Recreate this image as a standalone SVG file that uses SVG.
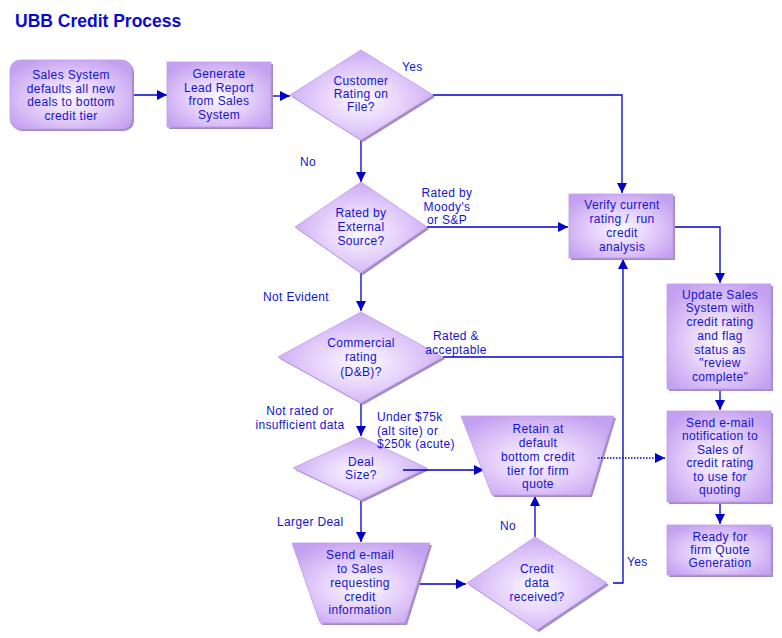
<svg xmlns="http://www.w3.org/2000/svg" width="782" height="638" viewBox="0 0 782 638">
<defs>
<radialGradient id="g" cx="50%" cy="55%" r="62%">
<stop offset="0" stop-color="#fdfaff"/>
<stop offset="0.45" stop-color="#e6d2fb"/>
<stop offset="1" stop-color="#c4a0f0"/>
</radialGradient>
<marker id="ah" markerUnits="userSpaceOnUse" markerWidth="10" markerHeight="10" refX="10" refY="5" orient="auto" viewBox="0 0 10 10">
<path d="M0,0 L10,5 L0,10 z" fill="#0000c8"/>
</marker>
<style>
.s{fill:url(#g);stroke:#c09cec;stroke-width:0.8}
.sh{fill:#a28cc2}
.t{font-family:"Liberation Sans",Arial,sans-serif;font-size:12px;letter-spacing:0.35px;fill:#1414d0;text-anchor:middle}
.l{font-family:"Liberation Sans",Arial,sans-serif;font-size:12px;letter-spacing:0.35px;fill:#1414d0}
.c{fill:none;stroke:#0000c8;stroke-width:1.3}
.d{fill:none;stroke:#0000c8;stroke-width:1.3;stroke-dasharray:1.5 1.5}
</style>
</defs>
<rect width="782" height="638" fill="#ffffff"/>
<text x="15" y="27" font-family="'Liberation Sans',Arial,sans-serif" font-size="17.5" font-weight="bold" fill="#0a0ad0">UBB Credit Process</text>

<g id="connectors">
<path class="c" d="M133,95 H167" marker-end="url(#ah)"/>
<path class="c" d="M272,96 H290" marker-end="url(#ah)"/>
<path class="c" d="M433,95 H622 V193" marker-end="url(#ah)"/>
<path class="c" d="M361,140 V182" marker-end="url(#ah)"/>
<path class="c" d="M427,227 H568" marker-end="url(#ah)"/>
<path class="c" d="M361,273 V311" marker-end="url(#ah)"/>
<path class="c" d="M443,357 H623"/>
<path class="c" d="M613,583 H623 V259" marker-end="url(#ah)"/>
<path class="c" d="M673,227 H720 V283" marker-end="url(#ah)"/>
<path class="c" d="M720,389 V410" marker-end="url(#ah)"/>
<path class="c" d="M720,502 V524" marker-end="url(#ah)"/>
<path class="c" d="M361,403 V436" marker-end="url(#ah)"/>
<path class="c" d="M361,500 V542" marker-end="url(#ah)"/>
<path class="c" d="M418,584 H466" marker-end="url(#ah)"/>
<path class="c" d="M535,537 V496" marker-end="url(#ah)"/>
</g>

<g id="n1">
<rect class="sh" x="12" y="62" width="122" height="69" rx="10"/>
<rect class="s" x="10" y="60" width="122" height="69" rx="10"/>
<text class="t" x="71" y="79">Sales System</text>
<text class="t" x="71" y="93">defaults all new</text>
<text class="t" x="71" y="106">deals to bottom</text>
<text class="t" x="71" y="120">credit tier</text>
</g>

<g id="n2">
<rect class="sh" x="169" y="64" width="104" height="65"/>
<rect class="s" x="167" y="62" width="104" height="65"/>
<text class="t" x="219" y="78">Generate</text>
<text class="t" x="219" y="92">Lead Report</text>
<text class="t" x="219" y="105">from Sales</text>
<text class="t" x="219" y="119">System</text>
</g>

<g id="d1">
<polygon class="sh" points="363,52 435,97 363,142 292,97"/>
<polygon class="s" points="361,50 433,95 361,140 290,95"/>
<text class="t" x="361" y="85">Customer</text>
<text class="t" x="361" y="98">Rating on</text>
<text class="t" x="361" y="111">File?</text>
</g>
<text class="l" x="402" y="71">Yes</text>
<text class="l" x="300" y="166">No</text>

<g id="d2">
<polygon class="sh" points="363,184 429,229 363,275 297,229"/>
<polygon class="s" points="361,182 427,227 361,273 295,227"/>
<text class="t" x="361" y="217">Rated by</text>
<text class="t" x="361" y="231">External</text>
<text class="t" x="361" y="245">Source?</text>
</g>
<text class="t" x="447" y="197">Rated by</text>
<text class="t" x="447" y="211">Moody's</text>
<text class="t" x="447" y="224">or S&amp;P</text>
<text class="l" x="263" y="301">Not Evident</text>

<g id="n3">
<rect class="sh" x="571" y="196" width="104" height="64"/>
<rect class="s" x="569" y="194" width="104" height="64"/>
<text class="t" x="622" y="209">Verify current</text>
<text class="t" x="622" y="223" style="white-space:pre">rating /  run</text>
<text class="t" x="622" y="237">credit</text>
<text class="t" x="622" y="251">analysis</text>
</g>

<g id="n4">
<rect class="sh" x="669" y="286" width="104" height="105"/>
<rect class="s" x="667" y="284" width="104" height="105"/>
<text class="t" x="720" y="299">Update Sales</text>
<text class="t" x="720" y="312">System with</text>
<text class="t" x="720" y="326">credit rating</text>
<text class="t" x="720" y="340">and flag</text>
<text class="t" x="720" y="354">status as</text>
<text class="t" x="720" y="367">"review</text>
<text class="t" x="720" y="381">complete"</text>
</g>

<g id="d3">
<polygon class="sh" points="363,314 445,359 363,405 280,359"/>
<polygon class="s" points="361,312 443,357 361,403 278,357"/>
<text class="t" x="361" y="347">Commercial</text>
<text class="t" x="361" y="361">rating</text>
<text class="t" x="361" y="376">(D&amp;B)?</text>
</g>
<text class="t" x="456" y="340">Rated &amp;</text>
<text class="t" x="456" y="354">acceptable</text>
<text class="t" x="300" y="415">Not rated or</text>
<text class="t" x="300" y="429">insufficient data</text>

<g id="d4">
<polygon class="sh" points="363,439 429,470 363,502 295,470"/>
<polygon class="s" points="361,437 427,468 361,500 293,468"/>
<text class="t" x="361" y="466">Deal</text>
<text class="t" x="361" y="479">Size?</text>
</g>
<text class="l" x="377" y="421">Under $75k</text>
<text class="l" x="377" y="435">(alt site) or</text>
<text class="l" x="377" y="448">$250k (acute)</text>
<path class="c" d="M403,470 H484" marker-end="url(#ah)"/>

<g id="n5">
<polygon class="sh" points="463,418 616,418 592,497 494,497"/>
<polygon class="s" points="461,416 614,416 590,495 492,495"/>
<text class="t" x="538" y="433">Retain at</text>
<text class="t" x="538" y="447">default</text>
<text class="t" x="538" y="461">bottom credit</text>
<text class="t" x="538" y="475">tier for firm</text>
<text class="t" x="538" y="488">quote</text>
</g>
<path class="d" d="M598,458 H665" marker-end="url(#ah)"/>

<g id="n6">
<rect class="sh" x="669" y="413" width="104" height="91"/>
<rect class="s" x="667" y="411" width="104" height="91"/>
<text class="t" x="720" y="427">Send e-mail</text>
<text class="t" x="720" y="440">notification to</text>
<text class="t" x="720" y="454">Sales of</text>
<text class="t" x="720" y="467">credit rating</text>
<text class="t" x="720" y="481">to use for</text>
<text class="t" x="720" y="494">quoting</text>
</g>

<g id="n7">
<rect class="sh" x="669" y="527" width="104" height="50"/>
<rect class="s" x="667" y="525" width="104" height="50"/>
<text class="t" x="720" y="541">Ready for</text>
<text class="t" x="720" y="554">firm Quote</text>
<text class="t" x="720" y="567">Generation</text>
</g>

<text class="l" x="277" y="526">Larger Deal</text>

<g id="n8">
<polygon class="sh" points="294,545 432,545 407,625 322,625"/>
<polygon class="s" points="292,543 430,543 405,623 320,623"/>
<text class="t" x="360" y="559">Send e-mail</text>
<text class="t" x="360" y="573">to Sales</text>
<text class="t" x="360" y="587">requesting</text>
<text class="t" x="360" y="601">credit</text>
<text class="t" x="360" y="614">information</text>
</g>

<g id="d5">
<polygon class="sh" points="537,539 609,585 539,632 469,585"/>
<polygon class="s" points="535,537 607,583 537,630 467,583"/>
<text class="t" x="537" y="573">Credit</text>
<text class="t" x="537" y="587">data</text>
<text class="t" x="537" y="601">received?</text>
</g>
<text class="l" x="500" y="530">No</text>
<text class="l" x="627" y="566">Yes</text>
</svg>
